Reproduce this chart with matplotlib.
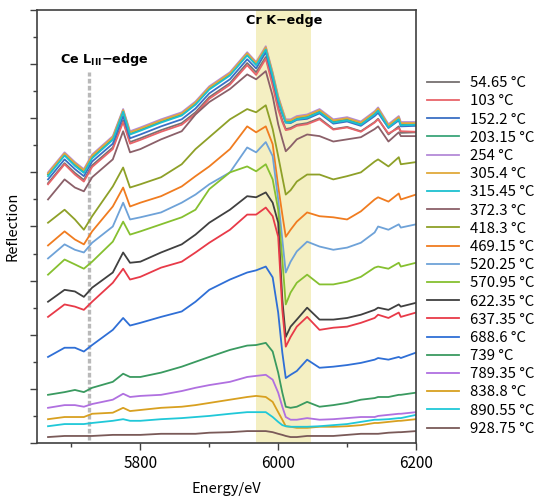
import matplotlib
matplotlib.use("Agg")
import matplotlib.pyplot as plt
from matplotlib.ticker import MultipleLocator, NullFormatter

plt.rcParams['font.family'] = ['Noto Sans CJK JP', 'DejaVu Sans']
plt.rcParams['mathtext.fontset'] = 'dejavusans'

energy = [5666, 5690, 5705, 5718, 5730, 5760, 5775, 5785, 5800, 5830, 5860, 5880,
          5900, 5930, 5955, 5968, 5982, 5992, 6000, 6006, 6011, 6018, 6027, 6042,
          6060, 6080, 6100, 6120, 6140, 6145, 6160, 6175, 6178, 6200]

labels = ["54.65 °C", "103 °C", "152.2 °C", "203.15 °C", "254 °C", "305.4 °C",
          "315.45 °C", "372.3 °C", "418.3 °C", "469.15 °C", "520.25 °C", "570.95 °C",
          "622.35 °C", "637.35 °C", "688.6 °C", "739 °C", "789.35 °C", "838.8 °C",
          "890.55 °C", "928.75 °C"]

colors = ["#767171", "#e8656a", "#3a6fc4", "#3aa57a", "#b48ad8", "#e0a93a",
          "#1cc0d0", "#8b6069", "#8ea028", "#f07c20", "#6ea2d8", "#86c030",
          "#404040", "#e83a48", "#2f6fd6", "#3a9a60", "#b070e0", "#d8a020",
          "#20c8d8", "#7a5a58"]

t054 = [4.80, 5.17, 4.99, 4.86, 5.13, 5.46, 5.96, 5.56, 5.63, 5.78, 5.91, 6.11, 6.39, 6.65, 7.02, 6.85, 7.13,
        6.65, 6.20, 5.96, 5.80, 5.82, 5.88, 5.91, 6.00, 5.80, 5.84, 5.76, 5.93, 5.99, 5.70, 5.85, 5.73, 5.74]
t103 = [4.78, 5.15, 4.96, 4.83, 5.10, 5.43, 5.93, 5.53, 5.60, 5.75, 5.88, 6.08, 6.36, 6.62, 6.98, 6.80, 7.10,
        6.60, 6.16, 5.93, 5.78, 5.80, 5.86, 5.89, 5.98, 5.79, 5.83, 5.75, 5.92, 5.98, 5.72, 5.82, 5.76, 5.75]
t152 = [4.87, 5.24, 5.06, 4.93, 5.20, 5.53, 6.04, 5.63, 5.70, 5.85, 5.98, 6.18, 6.46, 6.72, 7.09, 6.92, 7.22,
        6.74, 6.31, 6.08, 5.92, 5.91, 5.97, 5.99, 6.09, 5.90, 5.94, 5.86, 6.04, 6.10, 5.82, 5.96, 5.85, 5.86]
t203 = [4.96, 5.33, 5.15, 5.01, 5.28, 5.62, 6.13, 5.71, 5.79, 5.94, 6.07, 6.27, 6.55, 6.81, 7.18, 7.00, 7.29,
        6.80, 6.36, 6.12, 5.93, 5.94, 6.00, 6.03, 6.13, 5.94, 5.98, 5.90, 6.09, 6.16, 5.85, 6.00, 5.89, 5.90]
t254 = [5.00, 5.37, 5.19, 5.06, 5.33, 5.67, 6.17, 5.76, 5.83, 5.98, 6.11, 6.31, 6.59, 6.85, 7.22, 7.04, 7.33,
        6.85, 6.41, 6.17, 5.98, 5.98, 6.04, 6.07, 6.17, 5.98, 6.02, 5.94, 6.13, 6.20, 5.89, 6.04, 5.93, 5.93]
t305 = [4.98, 5.35, 5.17, 5.04, 5.31, 5.65, 6.15, 5.74, 5.81, 5.96, 6.09, 6.29, 6.57, 6.83, 7.20, 7.02, 7.31,
        6.83, 6.39, 6.15, 5.96, 5.96, 6.02, 6.05, 6.15, 5.96, 6.00, 5.92, 6.11, 6.18, 5.87, 6.02, 5.91, 5.91]
t315 = [4.93, 5.31, 5.12, 4.99, 5.26, 5.60, 6.12, 5.70, 5.77, 5.92, 6.05, 6.25, 6.53, 6.79, 7.16, 6.98, 7.27,
        6.78, 6.34, 6.10, 5.92, 5.92, 5.98, 6.01, 6.11, 5.92, 5.96, 5.88, 6.07, 6.14, 5.83, 5.98, 5.87, 5.88]
t372 = [4.50, 4.87, 4.72, 4.65, 4.91, 5.24, 5.76, 5.37, 5.43, 5.61, 5.76, 6.07, 6.30, 6.54, 6.81, 6.72, 6.87,
        6.41, 5.89, 5.61, 5.39, 5.48, 5.61, 5.70, 5.67, 5.57, 5.61, 5.65, 5.80, 5.85, 5.57, 5.74, 5.67, 5.67]
t418 = [4.07, 4.31, 4.13, 3.94, 4.19, 4.74, 5.09, 4.72, 4.78, 4.91, 5.15, 5.43, 5.65, 5.98, 6.17, 6.11, 6.24,
        5.80, 5.30, 4.91, 4.59, 4.67, 4.83, 4.96, 4.96, 4.87, 4.93, 5.00, 5.20, 5.24, 5.11, 5.28, 5.15, 5.19]
t469 = [3.65, 3.91, 3.76, 3.67, 3.91, 4.37, 4.72, 4.37, 4.44, 4.56, 4.74, 4.93, 5.11, 5.43, 5.85, 5.74, 5.85,
        5.52, 4.74, 4.22, 3.81, 3.94, 4.09, 4.26, 4.19, 4.17, 4.13, 4.28, 4.50, 4.54, 4.46, 4.61, 4.50, 4.59]
t520 = [3.41, 3.67, 3.57, 3.52, 3.70, 4.00, 4.44, 4.13, 4.17, 4.26, 4.44, 4.59, 4.78, 5.00, 5.46, 5.37, 5.56,
        5.30, 4.50, 3.76, 3.15, 3.35, 3.54, 3.72, 3.63, 3.57, 3.61, 3.70, 3.89, 4.00, 3.94, 4.04, 3.98, 4.04]
t570 = [3.11, 3.39, 3.30, 3.22, 3.35, 3.72, 4.09, 3.85, 3.91, 4.04, 4.17, 4.31, 4.69, 5.00, 5.11, 5.02, 5.15,
        4.87, 4.31, 3.39, 2.56, 2.78, 2.96, 3.11, 2.93, 2.93, 2.98, 3.07, 3.24, 3.26, 3.22, 3.33, 3.26, 3.33]
t622 = [2.61, 2.83, 2.80, 2.70, 2.87, 3.15, 3.52, 3.33, 3.35, 3.52, 3.67, 3.85, 4.07, 4.31, 4.56, 4.54, 4.63,
        4.44, 4.07, 2.65, 1.96, 2.15, 2.28, 2.50, 2.28, 2.28, 2.31, 2.37, 2.46, 2.50, 2.46, 2.56, 2.52, 2.59]
t637 = [2.33, 2.56, 2.52, 2.46, 2.61, 2.96, 3.22, 3.02, 3.07, 3.24, 3.35, 3.52, 3.70, 3.94, 4.22, 4.22, 4.35,
        4.19, 3.81, 2.46, 1.78, 1.96, 2.15, 2.33, 2.09, 2.13, 2.15, 2.22, 2.31, 2.37, 2.31, 2.41, 2.33, 2.41]
t688 = [1.59, 1.76, 1.76, 1.69, 1.81, 2.09, 2.31, 2.17, 2.22, 2.33, 2.43, 2.61, 2.83, 3.02, 3.15, 3.19, 3.26,
        3.06, 2.41, 1.67, 1.20, 1.26, 1.33, 1.54, 1.39, 1.41, 1.44, 1.48, 1.54, 1.57, 1.54, 1.59, 1.57, 1.67]
t739 = [0.89, 0.94, 0.98, 0.94, 1.02, 1.13, 1.28, 1.22, 1.22, 1.30, 1.41, 1.50, 1.59, 1.72, 1.80, 1.81, 1.85,
        1.69, 1.30, 0.93, 0.67, 0.65, 0.67, 0.76, 0.67, 0.70, 0.74, 0.80, 0.83, 0.85, 0.85, 0.89, 0.89, 0.93]
t789 = [0.65, 0.70, 0.70, 0.67, 0.72, 0.80, 0.91, 0.85, 0.87, 0.89, 0.96, 1.02, 1.07, 1.13, 1.22, 1.24, 1.26,
        1.17, 0.93, 0.67, 0.48, 0.43, 0.43, 0.46, 0.43, 0.44, 0.46, 0.48, 0.48, 0.50, 0.52, 0.54, 0.54, 0.57]
t838 = [0.44, 0.48, 0.48, 0.48, 0.54, 0.56, 0.65, 0.59, 0.61, 0.65, 0.67, 0.70, 0.74, 0.80, 0.85, 0.87, 0.85,
        0.76, 0.57, 0.43, 0.31, 0.30, 0.28, 0.28, 0.30, 0.30, 0.31, 0.33, 0.37, 0.37, 0.39, 0.41, 0.41, 0.44]
t890 = [0.31, 0.35, 0.35, 0.35, 0.37, 0.41, 0.44, 0.41, 0.41, 0.44, 0.46, 0.48, 0.50, 0.54, 0.57, 0.57, 0.57,
        0.48, 0.39, 0.33, 0.31, 0.30, 0.30, 0.30, 0.31, 0.33, 0.35, 0.39, 0.43, 0.43, 0.44, 0.46, 0.46, 0.52]
t928 = [0.11, 0.13, 0.13, 0.13, 0.13, 0.15, 0.15, 0.15, 0.15, 0.17, 0.17, 0.17, 0.19, 0.20, 0.22, 0.22, 0.22,
        0.20, 0.17, 0.15, 0.13, 0.11, 0.11, 0.13, 0.13, 0.13, 0.15, 0.17, 0.17, 0.17, 0.19, 0.20, 0.20, 0.22]

series = [t054, t103, t152, t203, t254, t305, t315, t372, t418, t469,
          t520, t570, t622, t637, t688, t739, t789, t838, t890, t928]

ce_edge = 5725
cr_span = (5968, 6048)

fig = plt.figure(figsize=(5.39, 4.98), dpi=100)
ax = fig.add_axes([37/539, 1-443/498, (416-37)/539, (443-10)/498])

ax.axvspan(cr_span[0], cr_span[1], color='#f4efc2', zorder=0, lw=0)
ax.plot([ce_edge, ce_edge], [0.05, 6.85], color='#b9b9b9', lw=2.4,
        linestyle=(0, (1.4, 0.7)), zorder=1)

handles = []
for vals, lab, col in zip(series, labels, colors):
    h, = ax.plot(energy, vals, color=col, lw=1.3, label=lab, zorder=2)
    handles.append(h)

ax.set_xlim(5650, 6200)
ax.set_ylim(0, 8)
ax.xaxis.set_major_locator(MultipleLocator(200))
ax.xaxis.set_minor_locator(MultipleLocator(100))
ax.yaxis.set_major_locator(MultipleLocator(1))
ax.yaxis.set_minor_locator(MultipleLocator(0.5))
ax.yaxis.set_major_formatter(NullFormatter())
ax.tick_params(axis='both', which='major', direction='out', length=5, width=1, color='#404040',
               labelsize=11)
ax.tick_params(axis='both', which='minor', direction='out', length=3, width=1, color='#404040')
for s in ax.spines.values():
    s.set_color('#404040')
    s.set_linewidth(1.2)

ax.set_xlabel("Energy/eV", fontsize=10.5, labelpad=7)
ax.set_ylabel("Reflection", fontsize=10.5, labelpad=4)

ax.text(5683, 7.09, r"Ce L$_{\mathbf{III}}$−edge", fontsize=9.2, fontweight='bold',
        family='DejaVu Sans', va='center', ha='left')
ax.text(5954, 7.80, "Cr K−edge", fontsize=9.2, fontweight='bold',
        family='DejaVu Sans', va='center', ha='left')

fig.legend(handles=handles, loc='center left', bbox_to_anchor=(427/539, 1-256/498),
           frameon=False, fontsize=10.8, handlelength=2.1, handletextpad=0.75,
           labelspacing=0.28, borderpad=0, borderaxespad=0)

fig.savefig("out.png", dpi=100)
